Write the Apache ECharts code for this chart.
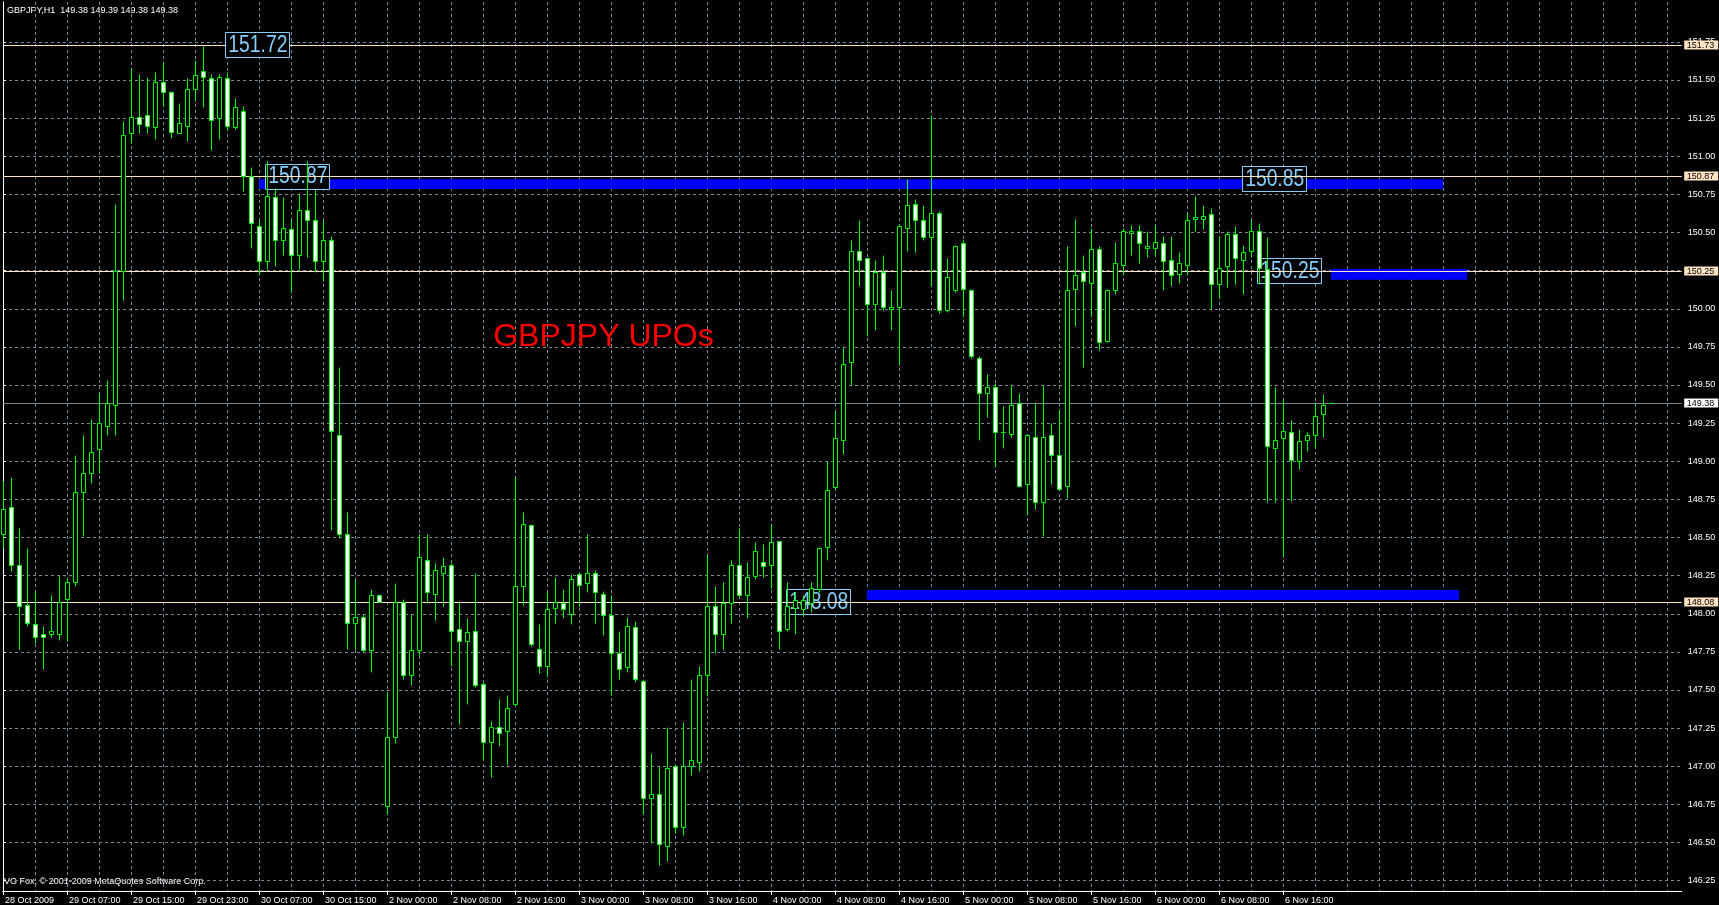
<!DOCTYPE html>
<html><head><meta charset="utf-8">
<script src="https://cdn.jsdelivr.net/npm/echarts@6/dist/echarts.min.js"></script>
<style>html,body{margin:0;padding:0;background:#000;}#c{width:1719px;height:905px;}</style>
</head><body><div id="c"></div>
<script>
// ---------- data ----------
const headerText = 'GBPJPY,H1  149.38 149.39 149.38 149.38';
const footerText = 'VG Fox, \u00A9 2001-2009 MetaQuotes Software Corp.';
const titleText = 'GBPJPY UPOs';
const xTickLabels = ['28 Oct 2009','29 Oct 07:00','29 Oct 15:00','29 Oct 23:00','30 Oct 07:00','30 Oct 15:00',
  '2 Nov 00:00','2 Nov 08:00','2 Nov 16:00','3 Nov 00:00','3 Nov 08:00','3 Nov 16:00','4 Nov 00:00','4 Nov 08:00',
  '4 Nov 16:00','5 Nov 00:00','5 Nov 08:00','5 Nov 16:00','6 Nov 00:00','6 Nov 08:00','6 Nov 16:00'];
const barsPerLabel = 8;
const barsPerGrid = 4;
const openP = [148.52,148.70,148.32,148.06,147.93,147.87,147.87,147.87,148.10,148.21,148.80,148.92,149.08,149.23,149.37,150.25,151.15,151.26,151.27,151.19,
151.49,151.42,151.15,151.20,151.44,151.56,151.51,151.25,151.51,151.19,151.30,150.87,150.54,150.31,150.73,150.45,150.52,150.35,150.65,150.58,
150.31,150.45,149.17,148.52,147.94,147.98,147.76,148.12,146.74,147.19,148.08,147.60,147.76,148.35,148.13,148.27,148.32,147.90,147.82,147.89,
147.54,147.16,147.26,147.23,147.41,148.18,148.58,147.77,147.66,148.04,148.07,148.00,148.26,148.20,148.27,148.13,147.99,147.74,147.65,147.91,
147.56,146.79,146.82,146.48,147.00,146.60,147.00,147.03,147.60,148.05,147.87,148.07,148.32,148.12,148.25,148.34,148.32,148.48,147.90,148.04,
148.03,148.07,148.16,148.44,148.83,149.14,149.65,150.38,150.33,150.03,150.24,150.00,150.01,150.53,150.69,150.58,150.47,150.63,149.99,150.12,
150.43,150.12,149.68,149.45,149.49,149.19,149.18,149.38,148.85,149.16,148.73,149.17,149.04,148.84,150.13,150.24,150.17,150.39,149.79,150.12,
150.29,150.50,150.51,150.40,150.40,150.43,150.32,150.23,150.29,150.59,150.59,150.62,150.16,150.28,150.49,150.32,150.38,150.51,150.26,149.09,
149.15,149.19,149.00,149.14,149.17,149.31,149.38];
const highP = [148.87,148.90,148.56,148.43,148.15,147.92,148.12,148.25,148.24,149.04,149.17,149.28,149.45,149.53,150.69,151.23,151.58,151.54,151.52,151.55,
151.62,151.43,151.35,151.51,151.63,151.72,151.54,151.54,151.55,151.38,151.33,150.93,150.58,150.97,150.79,150.73,150.59,150.75,150.97,150.78,
150.58,150.48,149.62,148.67,148.23,148.00,148.16,148.13,147.49,148.20,148.10,148.00,148.52,148.52,148.33,148.37,148.33,148.08,147.97,148.27,
147.55,147.30,147.44,147.47,148.90,148.67,148.59,147.93,148.15,148.24,148.16,148.26,148.27,148.52,148.29,148.15,148.12,147.89,147.98,147.95,
147.57,147.09,147.00,147.26,147.01,147.29,147.57,147.66,148.39,148.18,148.21,148.35,148.56,148.34,148.47,148.46,148.59,148.48,148.21,148.14,
148.12,148.21,148.44,149.00,149.33,149.75,150.45,150.58,150.33,150.32,150.35,150.12,150.55,150.85,150.72,150.68,151.27,150.64,150.33,150.42,
150.45,150.13,149.69,149.57,149.51,149.36,149.50,149.45,149.18,149.38,149.50,149.25,149.34,150.41,150.59,150.35,150.53,150.41,150.13,150.44,
150.53,150.55,150.55,150.51,150.55,150.48,150.48,150.37,150.63,150.74,150.68,150.66,150.48,150.51,150.54,150.42,150.59,150.56,150.47,149.49,
149.41,149.27,149.21,149.19,149.38,149.44,149.39];
const lowP = [148.43,148.28,147.77,147.92,147.81,147.64,147.85,147.83,147.82,148.18,148.51,148.86,148.92,149.17,149.17,150.06,151.09,151.15,151.15,151.11,
151.33,151.12,151.15,151.10,151.36,151.32,151.04,151.11,151.17,151.18,150.77,150.40,150.22,150.26,150.28,150.35,150.11,150.26,150.34,150.24,
150.18,148.55,148.50,147.77,147.77,147.75,147.62,148.08,146.69,147.15,147.57,147.53,147.73,148.07,147.96,148.05,147.66,147.28,147.41,147.52,
147.04,146.93,147.13,147.01,147.41,148.06,147.79,147.61,147.59,147.94,147.97,147.93,148.05,148.14,147.94,147.86,147.47,147.57,147.62,147.55,
146.69,146.50,146.35,146.38,146.56,146.55,146.94,146.97,147.46,147.74,147.77,147.94,148.11,147.97,148.23,148.24,148.17,147.77,147.89,147.87,
147.99,148.01,148.14,148.35,148.82,149.05,149.50,150.15,149.82,149.86,149.99,149.86,149.63,150.38,150.37,150.45,150.15,149.97,149.98,150.11,
149.95,149.68,149.14,149.29,148.96,149.09,149.16,148.83,148.65,148.69,148.51,148.85,148.81,148.76,149.89,149.62,149.95,149.73,149.78,150.10,
150.22,150.35,150.30,150.34,150.35,150.12,150.15,150.17,150.22,150.51,150.52,150.00,150.07,150.14,150.16,150.10,150.34,150.16,148.73,148.73,
148.37,148.74,148.95,149.07,149.09,149.16,149.38];
const closeP = [148.69,148.32,148.05,147.94,147.85,147.85,147.89,148.08,148.21,148.80,148.92,149.06,149.25,149.38,150.25,151.14,151.26,151.21,151.20,151.49,
151.42,151.16,151.22,151.44,151.53,151.52,151.24,151.52,151.20,151.32,150.87,150.56,150.31,150.74,150.45,150.53,150.35,150.65,150.58,150.31,
150.45,149.20,148.52,147.94,147.98,147.76,148.12,148.08,147.19,148.08,147.60,147.76,148.37,148.14,148.29,148.31,147.89,147.82,147.88,147.53,
147.16,147.26,147.22,147.38,148.18,148.59,147.80,147.66,148.03,148.08,148.03,148.23,148.19,148.27,148.14,147.99,147.74,147.64,147.92,147.57,
146.79,146.82,146.49,146.99,146.60,147.00,147.04,147.60,148.05,147.87,148.07,148.32,148.12,148.24,148.41,148.31,148.47,147.89,148.05,148.09,
148.09,148.17,148.43,148.81,149.15,149.64,150.38,150.32,150.03,150.24,150.01,150.01,150.54,150.68,150.58,150.47,150.63,149.99,150.21,150.41,
150.13,149.69,149.45,149.49,149.19,149.19,149.37,148.84,149.17,148.73,149.16,149.04,148.82,150.12,150.22,150.18,150.39,149.78,150.12,150.30,
150.51,150.51,150.43,150.41,150.44,150.31,150.22,150.30,150.58,150.60,150.61,150.16,150.27,150.49,150.33,150.37,150.51,150.27,149.10,149.14,
149.20,149.01,149.13,149.17,149.30,149.37,149.38];
// blue rectangles: [startBar, endBar, topPrice, bottomPrice]
const zoneStart = [32, 166, 108];
const zoneEnd = [180, 183, 182];
const zoneTop = [150.85, 150.26, 148.155];
const zoneBottom = [150.785, 150.19, 148.09];
// price text boxes
const noteBar = [31.8, 36.8, 158.9, 160.8, 101.9];
const notePrice = [151.73, 150.87, 150.855, 150.252, 148.082];
const noteText = ['151.72', '150.87', '150.85', '150.25', '148.08'];
const titleBar = 61.28, titlePrice = 149.816;
// horizontal lines
const backLevels = [151.73];
const frontLevels = [150.87, 150.25, 148.08];
const lastPrice = 149.38;

// ---------- chart ----------
const FONT = '"Liberation Sans", Arial, sans-serif';
const GRID_C = '#778899';
const PEACH = '#FFE4C4';
const xMax = 209.84;
const chart = echarts.init(document.getElementById('c'), null, {renderer: 'canvas'});

const candleData = openP.map((o, i) => [i, o, highP[i], lowP[i], closeP[i]]);
const zoneData = zoneStart.map((s, k) => [s, zoneEnd[k], zoneTop[k], zoneBottom[k]]);
const noteData = noteBar.map((b, k) => [b, notePrice[k]]);
const px = v => Math.round(v) + 0.5;

function renderCandle(params, api) {
  const i = api.value(0), o = api.value(1), h = api.value(2), l = api.value(3), c = api.value(4);
  const pO = api.coord([i, o]), pC = api.coord([i, c]), pH = api.coord([i, h]), pL = api.coord([i, l]);
  const x = px(pO[0]);
  const top = px(Math.min(pO[1], pC[1])), bot = px(Math.max(pO[1], pC[1]));
  const bull = c > o;
  return {type: 'group', children: [
    {type: 'line', shape: {x1: x, y1: px(pH[1]), x2: x, y2: px(pL[1])}, style: {stroke: '#00ff00', lineWidth: 1}},
    {type: 'rect', shape: {x: x - 2, y: top, width: 4, height: bot - top},
      style: {fill: bull ? '#000000' : '#ffffff', stroke: '#00ff00', lineWidth: 1}}
  ]};
}
function renderZone(params, api) {
  const a = api.coord([api.value(0), api.value(2)]), b = api.coord([api.value(1), api.value(3)]);
  return {type: 'rect', shape: {x: a[0], y: a[1], width: b[0] - a[0], height: b[1] - a[1]}, style: {fill: '#0000ff'}};
}
function renderNote(params, api) {
  const p = api.coord([api.value(0), api.value(1)]);
  const w = 64, h = 25;
  return {type: 'group', children: [
    {type: 'rect', shape: {x: Math.round(p[0] - w / 2) + 0.5, y: Math.round(p[1] - h / 2) + 0.5, width: w, height: h},
      style: {fill: '#000', stroke: '#87CEFA', lineWidth: 1}},
    {type: 'text', x: p[0] + 0.5, y: p[1] + 1, scaleX: 0.84,
      style: {text: noteText[params.dataIndex], fill: '#87CEFA', font: '23px ' + FONT, align: 'center', verticalAlign: 'middle'}}
  ]};
}
function makeLevelRenderer(lineColor, boxColor) {
  return function (params, api) {
    const cs = params.coordSys;
    const price = api.value(1);
    const y = px(api.coord([0, price])[1]);
    const right = cs.x + cs.width;
    return {type: 'group', children: [
      {type: 'line', shape: {x1: cs.x, y1: y, x2: right, y2: y}, style: {stroke: lineColor, lineWidth: 1}},
      {type: 'rect', shape: {x: right + 2.5, y: y - 5, width: 34, height: 9}, style: {fill: boxColor}},
      {type: 'text', x: right + 5, y: y, style: {text: price.toFixed(2), fill: '#000', font: '9px ' + FONT, align: 'left', verticalAlign: 'middle'}}
    ]};
  };
}
function renderTitle(params, api) {
  const p = api.coord([api.value(0), api.value(1)]);
  return {type: 'text', x: p[0], y: p[1], style: {text: titleText, fill: '#ff0000', font: '32px ' + FONT, align: 'left', verticalAlign: 'middle'}};
}

const option = {
  backgroundColor: '#000',
  animation: false,
  grid: [
    {left: 3, width: 1678.7, top: 3.75, height: 915, show: false, containLabel: false, outerBoundsMode: 'none'},
    {left: 3, width: 1678.7, top: 2, height: 889, show: false, containLabel: false, outerBoundsMode: 'none'}
  ],
  xAxis: [
    {type: 'value', gridIndex: 0, min: 0, max: xMax, show: false},
    {type: 'value', gridIndex: 1, min: 0, max: xMax, interval: barsPerLabel, position: 'bottom',
      axisLine: {show: true, lineStyle: {color: '#fff', width: 1}},
      axisTick: {show: true, length: 4, lineStyle: {color: '#fff'}, customValues: xTickLabels.map((_, k) => k * barsPerLabel)},
      axisLabel: {show: true, color: '#fff', fontSize: 9, fontFamily: FONT, align: 'left', verticalAlign: 'top', margin: 5,
        padding: [0, 0, 0, 2], customValues: xTickLabels.map((_, k) => k * barsPerLabel),
        formatter: v => xTickLabels[Math.round(v / barsPerLabel)] || ''},
      splitLine: {show: false}},
    {type: 'value', gridIndex: 1, min: 0, max: xMax, interval: barsPerGrid, position: 'top',
      axisLine: {show: true, lineStyle: {color: '#fff', width: 1}},
      axisTick: {show: false}, axisLabel: {show: false},
      splitLine: {show: true, showMinLine: false, showMaxLine: false, lineStyle: {color: GRID_C, type: [3, 3], width: 1}}}
  ],
  yAxis: [
    {type: 'value', gridIndex: 0, position: 'right', min: 146, max: 152, interval: 0.25,
      axisLine: {show: false},
      axisTick: {show: true, length: 3, lineStyle: {color: '#fff'}},
      axisLabel: {show: true, color: '#fff', fontSize: 9, fontFamily: FONT, margin: 6, showMaxLabel: false,
        formatter: v => v.toFixed(2)},
      splitLine: {show: true, showMaxLine: false, lineStyle: {color: GRID_C, type: [3, 3], width: 1}}},
    {type: 'value', gridIndex: 1, position: 'left', min: 0, max: 1,
      axisLine: {show: true, lineStyle: {color: '#fff'}}, axisTick: {show: false}, axisLabel: {show: false}, splitLine: {show: false}},
    {type: 'value', gridIndex: 1, position: 'right', min: 0, max: 1,
      axisLine: {show: true, lineStyle: {color: '#fff'}}, axisTick: {show: false}, axisLabel: {show: false}, splitLine: {show: false}}
  ],
  graphic: [
    {type: 'text', left: 7, top: 6, style: {text: headerText, fill: '#fff', font: '9px ' + FONT}},
    {type: 'text', left: 4, top: 877, style: {text: footerText, fill: '#fff', font: '9px ' + FONT}}
  ],
  series: [
    {type: 'custom', name: 'zones', xAxisIndex: 0, yAxisIndex: 0, z: 1, renderItem: renderZone,
      encode: {x: [0, 1], y: [2, 3]}, data: zoneData, silent: true},
    {type: 'custom', name: 'backLevels', xAxisIndex: 0, yAxisIndex: 0, z: 2, renderItem: makeLevelRenderer(PEACH, PEACH),
      encode: {x: 0, y: 1}, data: backLevels.map(v => [0, v]), silent: true},
    {type: 'custom', name: 'notes', xAxisIndex: 0, yAxisIndex: 0, z: 3, renderItem: renderNote,
      encode: {x: 0, y: 1}, data: noteData, silent: true},
    {type: 'custom', name: 'levels', xAxisIndex: 0, yAxisIndex: 0, z: 4, renderItem: makeLevelRenderer(PEACH, PEACH),
      encode: {x: 0, y: 1}, data: frontLevels.map(v => [0, v]), silent: true},
    {type: 'custom', name: 'last', xAxisIndex: 0, yAxisIndex: 0, z: 4, renderItem: makeLevelRenderer(GRID_C, '#ffffff'),
      encode: {x: 0, y: 1}, data: [[0, lastPrice]], silent: true},
    {type: 'custom', name: 'GBPJPY', xAxisIndex: 0, yAxisIndex: 0, z: 5, renderItem: renderCandle,
      encode: {x: 0, y: [1, 2, 3, 4]}, data: candleData, silent: true},
    {type: 'custom', name: 'title', xAxisIndex: 0, yAxisIndex: 0, z: 6, renderItem: renderTitle,
      encode: {x: 0, y: 1}, data: [[titleBar, titlePrice]], silent: true}
  ]
};
chart.setOption(option);
</script>
</body></html>
